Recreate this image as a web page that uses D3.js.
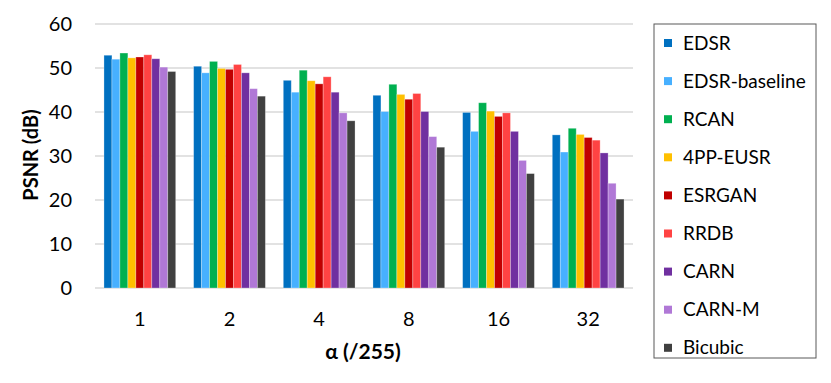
<!DOCTYPE html>
<html>
<head>
<meta charset="utf-8">
<script src="https://cdn.jsdelivr.net/npm/d3@7"></script>
<style>
  body { margin: 0; background: #fff; }
  svg { font-family: Lato, "Open Sans", sans-serif; }
</style>
</head>
<body>
<svg id="chart" width="831" height="383"></svg>
<script>
// data
const alphas = ["1", "2", "4", "8", "16", "32"];
const methods = ["EDSR", "EDSR-baseline", "RCAN", "4PP-EUSR", "ESRGAN", "RRDB", "CARN", "CARN-M", "Bicubic"];
const colors = ["#0070C0", "#47B0FF", "#00B050", "#FFC000", "#C00000", "#FF4343", "#7030A0", "#B078D6", "#404040"];

const edsr     = [52.9, 50.4, 47.2, 43.8, 39.9, 34.8];
const edsrBase = [52.0, 48.9, 44.5, 40.1, 35.6, 30.9];
const rcan     = [53.4, 51.5, 49.5, 46.3, 42.1, 36.3];
const eusr     = [52.3, 49.9, 47.1, 44.0, 40.2, 34.9];
const esrgan   = [52.5, 49.7, 46.4, 42.9, 39.0, 34.2];
const rrdb     = [53.0, 50.8, 48.0, 44.2, 39.8, 33.6];
const carn     = [52.1, 48.9, 44.5, 40.1, 35.6, 30.7];
const carnM    = [50.2, 45.3, 39.8, 34.4, 29.0, 23.8];
const bicubic  = [49.2, 43.6, 38.0, 32.0, 26.0, 20.2];

const series = [edsr, edsrBase, rcan, eusr, esrgan, rrdb, carn, carnM, bicubic];
const yTicks = [0, 10, 20, 30, 40, 50, 60];

var svg = d3.select("#chart");

var x0 = d3.scaleBand().domain(alphas).range([95, 633]).paddingInner(0.2).paddingOuter(0.1);
var x1 = d3.scaleBand().domain(methods).range([0, x0.bandwidth()]);
var y = d3.scaleLinear().domain([0, 60]).range([288, 24]);

// gridlines
svg.append("g")
    .selectAll("line")
    .data(yTicks)
    .enter()
    .append("line")
    .attr("x1", 95)
    .attr("x2", 633)
    .attr("y1", d => y(d))
    .attr("y2", d => y(d))
    .attr("stroke", "#d9d9d9")
    .attr("stroke-width", 1.5);

// y tick labels
svg.append("g")
    .selectAll("text")
    .data(yTicks)
    .enter()
    .append("text")
    .attr("x", 72)
    .attr("y", d => y(d))
    .attr("dy", "0.35em")
    .attr("text-anchor", "end")
    .attr("font-size", "20px")
    .attr("fill", "#000")
    .text(d => d);

// bars
var groups = svg.append("g")
    .selectAll("g")
    .data(alphas)
    .enter()
    .append("g")
    .attr("transform", d => "translate(" + x0(d) + ",0)");

groups.selectAll("rect")
    .data((a, i) => methods.map((m, j) => ({ m: m, v: series[j][i], c: colors[j] })))
    .enter()
    .append("rect")
    .attr("x", d => x1(d.m))
    .attr("y", d => y(d.v))
    .attr("width", x1.bandwidth())
    .attr("height", d => y(0) - y(d.v))
    .attr("fill", d => d.c)
    .attr("stroke", "rgba(255,255,255,0.35)")
    .attr("stroke-width", 0.8);

// x tick labels
svg.append("g")
    .selectAll("text")
    .data(alphas)
    .enter()
    .append("text")
    .attr("x", d => x0(d) + x0.bandwidth() / 2)
    .attr("y", 319)
    .attr("dy", "0.35em")
    .attr("text-anchor", "middle")
    .attr("font-size", "20px")
    .text(d => d);

// axis titles
svg.append("text")
    .attr("x", 363)
    .attr("y", 352)
    .attr("dy", "0.35em")
    .attr("text-anchor", "middle")
    .attr("font-size", "21px")
    .attr("font-weight", "bold")
    .text("α (/255)");

svg.append("text")
    .attr("transform", "translate(31,155) rotate(-90)")
    .attr("dy", "0.35em")
    .attr("text-anchor", "middle")
    .attr("font-size", "20px")
    .attr("font-weight", "bold")
    .text("PSNR (dB)");

// legend
var legend = svg.append("g").attr("transform", "translate(654, 24)");

legend.append("rect")
    .attr("width", 162)
    .attr("height", 334)
    .attr("fill", "none")
    .attr("stroke", "#595959")
    .attr("stroke-width", 1);

var items = legend.selectAll("g")
    .data(methods)
    .enter()
    .append("g")
    .attr("transform", (d, i) => "translate(0," + (19 + i * 38.1) + ")");

items.append("rect")
    .attr("x", 10)
    .attr("y", -4)
    .attr("width", 8)
    .attr("height", 8)
    .attr("fill", (d, i) => colors[i]);

items.append("text")
    .attr("x", 29)
    .attr("dy", "0.35em")
    .attr("font-size", "19px")
    .text(d => d);
</script>
</body>
</html>
